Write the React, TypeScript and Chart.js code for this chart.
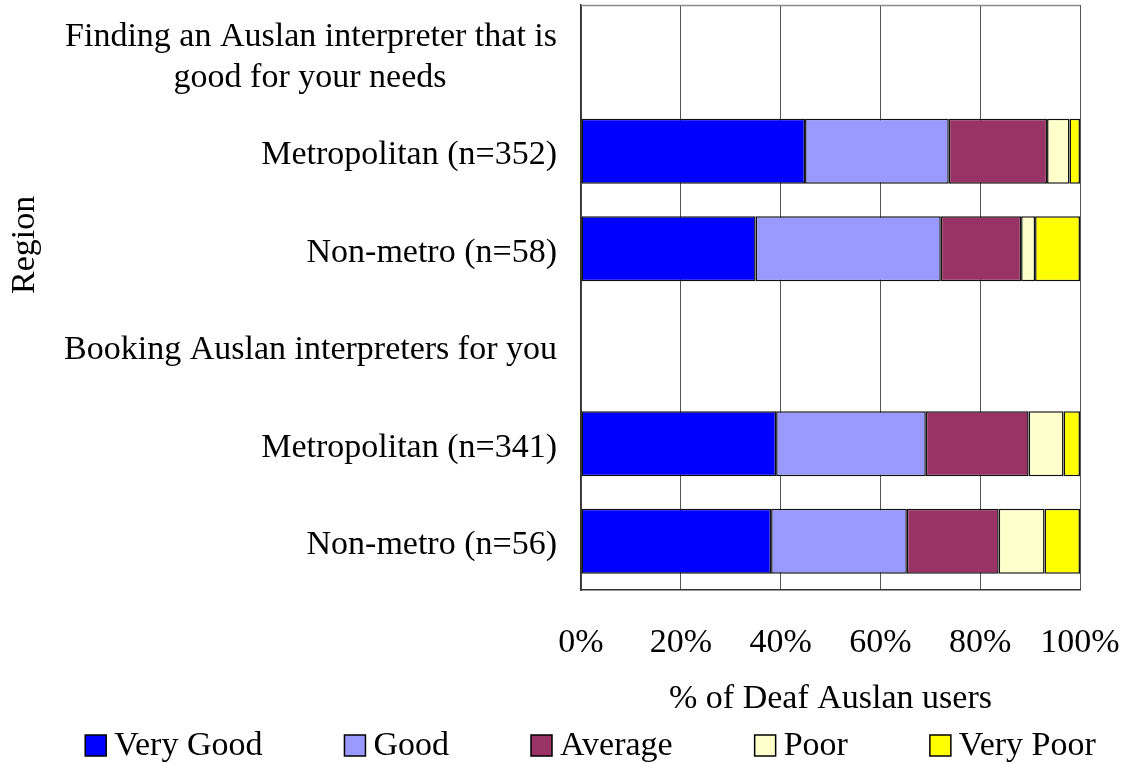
import React, { useEffect, useRef } from "react";
import { Chart, registerables } from "chart.js";

Chart.register(...registerables);

const NB = "\u00A0";
const categories: (string | string[])[] = [
  ["Finding an Auslan interpreter that is", "good for your needs" + NB.repeat(13)],
  "Metropolitan (n=352)",
  "Non-metro (n=58)",
  "Booking Auslan interpreters for you",
  "Metropolitan (n=341)",
  "Non-metro (n=56)",
];

const seriesNames = ["Very Good", "Good", "Average", "Poor", "Very Poor"];
const veryGood = [null, 44.9, 35.0, null, 39.1, 38.1];
const good = [null, 28.8, 37.1, null, 30.0, 27.2];
const average = [null, 19.7, 16.1, null, 20.6, 18.4];
const poor = [null, 4.5, 2.8, null, 7.0, 9.2];
const veryPoor = [null, 2.1, 9.0, null, 3.3, 7.1];
const seriesColors = ["#0000FF", "#9999FF", "#993366", "#FFFFCC", "#FFFF00"];
const xTicks = [0, 20, 40, 60, 80, 100];

const xTitle = "% of Deaf Auslan users";
const yTitle = "Region";

const FONT = "'Liberation Serif', 'Times New Roman', serif";

const framePlugin = {
  id: "frame",
  beforeDatasetsDraw(chart: any) {
    const { ctx, chartArea } = chart;
    ctx.save();
    ctx.strokeStyle = "#8a8a8a";
    ctx.lineWidth = 1.5;
    ctx.beginPath();
    ctx.moveTo(chartArea.left, chartArea.top + 0.5);
    ctx.lineTo(chartArea.right, chartArea.top + 0.5);
    ctx.stroke();
    ctx.restore();
  },
};

const yTitlePlugin = {
  id: "yTitleCustom",
  afterDraw(chart: any) {
    const { ctx, chartArea } = chart;
    ctx.save();
    ctx.font = `34px ${FONT}`;
    ctx.fillStyle = "#000";
    ctx.textAlign = "center";
    ctx.textBaseline = "middle";
    ctx.translate(25, chartArea.top + (chartArea.bottom - chartArea.top) * 0.41);
    ctx.rotate(-Math.PI / 2);
    ctx.fillText(yTitle, 0, 0);
    ctx.restore();
  },
};

const legendPlugin = {
  id: "customLegend",
  afterDraw(chart: any) {
    const { ctx } = chart;
    const box = 21;
    const gap = 8;
    const spacing = 82;
    ctx.save();
    ctx.font = `34px ${FONT}`;
    const items = chart.data.datasets.map((d: any) => ({
      label: d.label,
      color: d.backgroundColor,
      w: ctx.measureText(d.label).width,
    }));
    const total =
      items.reduce((s: number, it: any) => s + box + gap + it.w, 0) + spacing * (items.length - 1);
    const center = (chart.width + 56) / 2;
    let x = center - total / 2;
    const cy = chart.height - 18.5;
    items.forEach((it: any) => {
      ctx.fillStyle = it.color;
      ctx.fillRect(x, cy - box / 2, box, box);
      ctx.strokeStyle = "#000";
      ctx.lineWidth = 1.5;
      ctx.strokeRect(x, cy - box / 2, box, box);
      ctx.fillStyle = "#000";
      ctx.textAlign = "left";
      ctx.textBaseline = "middle";
      ctx.fillText(it.label, x + box + gap, cy + 1);
      x += box + gap + it.w + spacing;
    });
    ctx.restore();
  },
};

export default function App() {
  const ref = useRef<HTMLCanvasElement>(null);

  useEffect(() => {
    document.body.style.margin = "0";
    const series = [veryGood, good, average, poor, veryPoor];
    const chart = new Chart(ref.current!, {
      type: "bar",
      data: {
        labels: categories,
        datasets: series.map((data, i) => ({
          label: seriesNames[i],
          data,
          backgroundColor: seriesColors[i],
          borderColor: "#111",
          borderWidth: 1.5,
          borderSkipped: false,
          categoryPercentage: 1,
          barPercentage: 0.667,
        })),
      },
      options: {
        indexAxis: "y",
        animation: false,
        responsive: true,
        maintainAspectRatio: false,
        layout: { padding: { top: 5, right: 45, left: 0, bottom: 45 } },
        plugins: {
          legend: { display: false },
          tooltip: { enabled: false },
        },
        scales: {
          x: {
            stacked: true,
            min: 0,
            max: 100,
            afterBuildTicks: (scale: any) => {
              scale.ticks = xTicks.map((v) => ({ value: v }));
            },
            afterFit: (scale: any) => {
              scale.height = 129;
              scale.paddingLeft = 0;
              scale.paddingRight = 0;
            },
            ticks: {
              callback: (v: any) => `${v}%`,
              font: { family: FONT, size: 34 },
              color: "#000",
              padding: 33,
              maxRotation: 0,
            },
            grid: { color: "#555", lineWidth: 1, drawTicks: false },
            border: { color: "#333", width: 1.5 },
            title: {
              display: true,
              text: xTitle,
              font: { family: FONT, size: 34 },
              color: "#000",
              padding: { top: 17, bottom: 0 },
            },
          },
          y: {
            stacked: true,
            afterFit: (scale: any) => {
              scale.width = 581;
              scale.paddingTop = 0;
              scale.paddingBottom = 0;
            },
            ticks: {
              font: { family: FONT, size: 34 },
              color: "#000",
              padding: 24,
              labelOffset: 4,
            },
            grid: { display: false, drawTicks: false },
            border: { color: "#333", width: 1.5 },
          },
        },
      },
      plugins: [framePlugin, yTitlePlugin, legendPlugin],
    } as any);
    return () => chart.destroy();
  }, []);

  return (
    <div style={{ position: "relative", width: 1125, height: 764, background: "#fff" }}>
      <canvas ref={ref} />
    </div>
  );
}
